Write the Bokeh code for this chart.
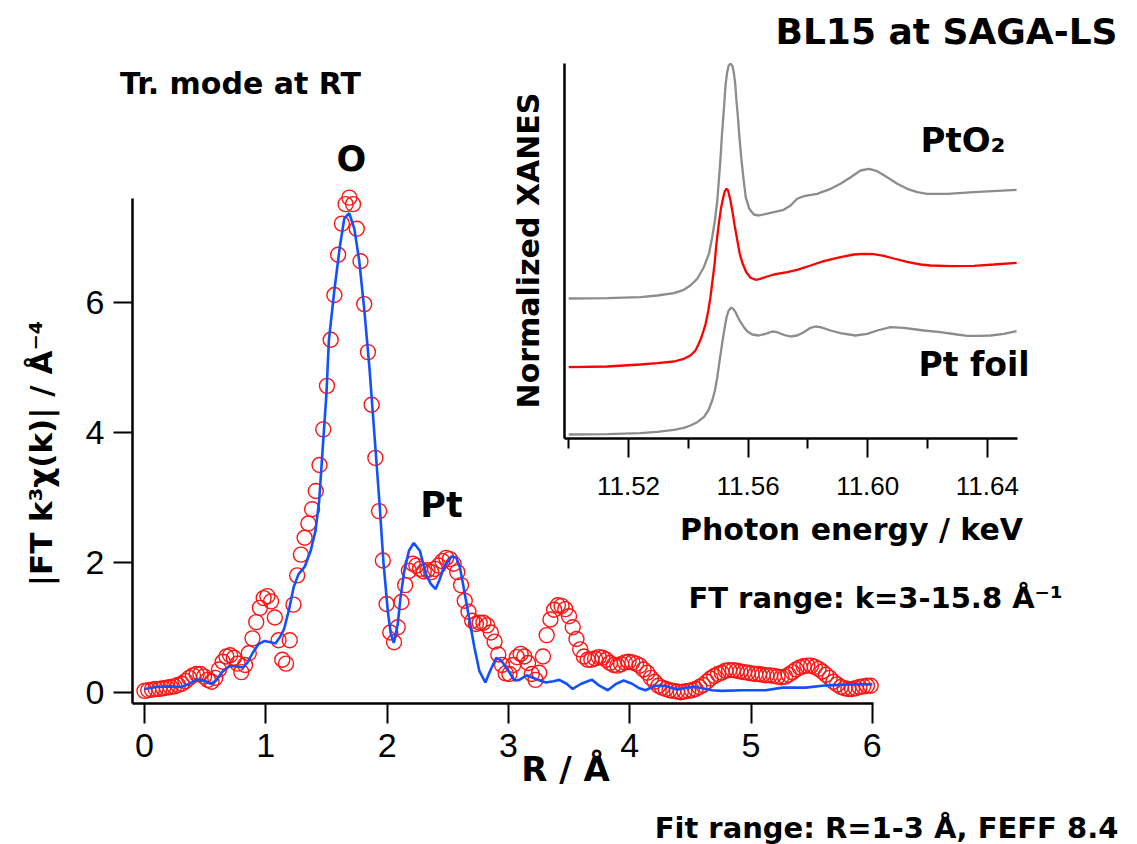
import numpy as np
from bokeh.plotting import figure
from bokeh.models import (Range1d, LinearAxis, FixedTicker, NumeralTickFormatter, Label)
from bokeh.embed import file_html
from bokeh.resources import INLINE

# ---------------- data ----------------
# |FT k^3 chi(k)| experimental points on a uniform R grid (step 0.0307 A)
R_STEP = 0.0307
ft_exp = [0.02, 0.03, 0.04, 0.05, 0.05, 0.06, 0.07, 0.08, 0.09, 0.11,
          0.13, 0.17, 0.22, 0.26, 0.28, 0.28, 0.24, 0.19, 0.16, 0.22,
          0.35, 0.47, 0.55, 0.57, 0.53, 0.44, 0.31, 0.42, 0.60, 0.83,
          1.08, 1.30, 1.45, 1.48, 1.40, 1.15, 0.80, 0.50, 0.44, 0.80,
          1.35, 1.80, 2.12, 2.38, 2.60, 2.82, 3.10, 3.50, 4.05, 4.72,
          5.43, 6.12, 6.74, 7.22, 7.52, 7.62, 7.52, 7.14, 6.64, 5.98,
          5.24, 4.43, 3.61, 2.79, 2.03, 1.36, 0.92, 0.77, 1.00, 1.39,
          1.65, 1.87, 1.98, 1.95, 1.90, 1.86, 1.88, 1.85, 1.90, 1.95,
          2.02, 2.07, 2.05, 1.98, 1.85, 1.65, 1.41, 1.24, 1.10, 1.05,
          1.07, 1.07, 1.03, 0.92, 0.78, 0.58, 0.42, 0.29, 0.28, 0.42,
          0.54, 0.59, 0.55, 0.45, 0.28, 0.19, 0.30, 0.55, 0.88, 1.12,
          1.27, 1.34, 1.33, 1.28, 1.17, 1.00, 0.82, 0.66, 0.55, 0.50,
          0.50, 0.52, 0.54, 0.53, 0.50, 0.45, 0.42, 0.41, 0.43, 0.46,
          0.47, 0.46, 0.44, 0.41, 0.35, 0.30, 0.22, 0.16, 0.10, 0.07,
          0.05, 0.03, 0.02, 0.01, 0.00, 0.01, 0.02, 0.03, 0.05, 0.08,
          0.11, 0.16, 0.21, 0.25, 0.28, 0.30, 0.33, 0.34, 0.34, 0.33,
          0.32, 0.31, 0.30, 0.29, 0.28, 0.28, 0.27, 0.26, 0.26, 0.25,
          0.24, 0.23, 0.24, 0.27, 0.31, 0.35, 0.38, 0.40, 0.41, 0.41,
          0.39, 0.36, 0.32, 0.27, 0.22, 0.16, 0.12, 0.08, 0.06, 0.05,
          0.05, 0.06, 0.08, 0.09, 0.10, 0.10]
R_exp = np.arange(len(ft_exp)) * R_STEP

# fitted curve
fit_R = [0.00, 0.10, 0.21, 0.30, 0.37, 0.43, 0.49, 0.545, 0.59, 0.64,
         0.70, 0.75, 0.81, 0.85, 0.89, 0.94, 0.99, 1.04, 1.08, 1.12,
         1.15, 1.19, 1.23, 1.27, 1.32, 1.37, 1.41, 1.44, 1.47, 1.50,
         1.52, 1.565, 1.61, 1.647, 1.688, 1.73, 1.77, 1.81, 1.854, 1.895,
         1.936, 1.97, 2.006, 2.03, 2.055, 2.088, 2.11, 2.14, 2.18, 2.22,
         2.27, 2.32, 2.36, 2.40, 2.43, 2.47, 2.53, 2.57, 2.60, 2.64,
         2.68, 2.72, 2.76, 2.81, 2.85, 2.90, 2.94, 3.00, 3.05, 3.09,
         3.15, 3.19, 3.26, 3.31, 3.37, 3.42, 3.48, 3.53, 3.60, 3.67,
         3.69, 3.75, 3.82, 3.88, 3.95, 4.02, 4.08, 4.13, 4.21, 4.29,
         4.35, 4.40, 4.47, 4.54, 4.60, 4.68, 4.76, 4.93, 5.12, 5.26,
         5.45, 5.59, 5.81, 6.00]
fit_mag = [0.05, 0.08, 0.09, 0.08, 0.13, 0.20, 0.18, 0.13, 0.18, 0.31,
           0.40, 0.40, 0.38, 0.46, 0.60, 0.74, 0.79, 0.77, 0.75, 0.86,
           0.97, 1.26, 1.62, 1.82, 1.93, 2.18, 2.49, 2.95, 3.78, 4.60,
           5.42, 6.19, 6.86, 7.30, 7.38, 7.14, 6.65, 5.93, 5.01, 3.98,
           2.95, 2.00, 1.25, 0.90, 0.76, 1.05, 1.45, 1.85, 2.18, 2.30,
           2.18, 1.82, 1.67, 1.59, 1.72, 1.93, 2.09, 2.07, 1.93, 1.52,
           1.10, 0.69, 0.33, 0.15, 0.33, 0.53, 0.49, 0.33, 0.18, 0.19,
           0.26, 0.23, 0.18, 0.15, 0.17, 0.19, 0.13, 0.05, 0.13, 0.18,
           0.19, 0.10, 0.03, 0.12, 0.18, 0.13, 0.06, 0.03, 0.10, 0.10,
           0.06, 0.04, 0.07, 0.08, 0.06, 0.03, 0.02, 0.03, 0.03, 0.07,
           0.07, 0.10, 0.12, 0.12]

main_xticks = [0, 1, 2, 3, 4, 5, 6]
main_yticks = [0, 2, 4, 6]

# inset: normalized XANES (keV), each curve with its vertical offset
e_pto2 = [11.5000, 11.5129, 11.5240, 11.5296, 11.5352, 11.5385, 11.5407, 11.5430,
          11.5452, 11.5469, 11.5480, 11.5489, 11.5497, 11.5503, 11.5508, 11.5512,
          11.5517, 11.5521, 11.5525, 11.5530, 11.5535, 11.5541, 11.5547, 11.5552,
          11.5557, 11.5561, 11.5566, 11.5571, 11.5577, 11.5584, 11.5592, 11.5604,
          11.5619, 11.5636, 11.5686, 11.5719, 11.5742, 11.5764, 11.5786, 11.5831,
          11.5876, 11.5909, 11.5943, 11.5976, 11.6004, 11.6032, 11.6065, 11.6099,
          11.6132, 11.6166, 11.6199, 11.6266, 11.6355, 11.6498]
mu_pto2 = [0.000, 0.003, 0.013, 0.030, 0.053, 0.087, 0.130, 0.197,
           0.313, 0.447, 0.613, 0.780, 0.980, 1.213, 1.413, 1.613,
           1.813, 1.980, 2.147, 2.263, 2.330, 2.347, 2.330, 2.263,
           2.147, 1.980, 1.813, 1.613, 1.413, 1.213, 1.013, 0.897,
           0.840, 0.830, 0.863, 0.887, 0.930, 0.997, 1.023, 1.047,
           1.097, 1.147, 1.213, 1.280, 1.297, 1.273, 1.213, 1.147,
           1.097, 1.063, 1.047, 1.047, 1.063, 1.087]
e_sample = [11.5000, 11.5129, 11.5240, 11.5296, 11.5352, 11.5385, 11.5407, 11.5424,
            11.5435, 11.5446, 11.5458, 11.5467, 11.5474, 11.5481, 11.5488, 11.5494,
            11.5502, 11.5509, 11.5517, 11.5522, 11.5528, 11.5533, 11.5541, 11.5548,
            11.5555, 11.5564, 11.5572, 11.5582, 11.5594, 11.5608, 11.5625, 11.5641,
            11.5664, 11.5686, 11.5731, 11.5764, 11.5809, 11.5853, 11.5909, 11.5954,
            11.5987, 11.6020, 11.6054, 11.6087, 11.6132, 11.6177, 11.6210, 11.6277,
            11.6355, 11.6422, 11.6498]
mu_sample = [0.003, 0.010, 0.030, 0.043, 0.060, 0.087, 0.120, 0.170,
             0.237, 0.320, 0.437, 0.570, 0.703, 0.870, 1.037, 1.237,
             1.437, 1.587, 1.703, 1.763, 1.787, 1.770, 1.670, 1.553,
             1.420, 1.270, 1.137, 1.037, 0.953, 0.897, 0.877, 0.887,
             0.910, 0.930, 0.953, 0.977, 1.020, 1.063, 1.103, 1.130,
             1.137, 1.133, 1.117, 1.090, 1.057, 1.030, 1.020, 1.013,
             1.017, 1.030, 1.047]
e_foil = [11.5000, 11.5129, 11.5240, 11.5296, 11.5352, 11.5385, 11.5407, 11.5430,
          11.5452, 11.5467, 11.5480, 11.5489, 11.5497, 11.5504, 11.5513, 11.5521,
          11.5528, 11.5535, 11.5543, 11.5550, 11.5558, 11.5566, 11.5575, 11.5586,
          11.5597, 11.5614, 11.5636, 11.5658, 11.5681, 11.5697, 11.5719, 11.5742,
          11.5764, 11.5786, 11.5809, 11.5825, 11.5842, 11.5876, 11.5909, 11.5959,
          11.5998, 11.6032, 11.6076, 11.6121, 11.6188, 11.6243, 11.6299, 11.6333,
          11.6377, 11.6411, 11.6455, 11.6498]
mu_foil = [0.010, 0.013, 0.023, 0.037, 0.057, 0.077, 0.100, 0.133,
           0.183, 0.250, 0.350, 0.450, 0.583, 0.733, 0.917, 1.067,
           1.183, 1.250, 1.277, 1.267, 1.233, 1.183, 1.133, 1.083,
           1.043, 1.010, 1.000, 1.017, 1.040, 1.033, 1.007, 0.990,
           1.000, 1.033, 1.077, 1.090, 1.083, 1.050, 1.023, 1.000,
           1.017, 1.050, 1.083, 1.077, 1.050, 1.033, 1.010, 0.997,
           0.997, 1.000, 1.017, 1.043]
off_pto2, off_sample, off_foil = 1.37, 0.68, 0.0

inset_ticks = [11.52, 11.56, 11.60, 11.64]
inset_minor = [11.50, 11.54, 11.58, 11.62]

# ---------------- layout (pixel geometry) ----------------
W, H = 1137, 844
X0PX, XS = 144.0, 121.3      # R=0 pixel, px per Angstrom
Y0PX, YS = 691.7, 64.9       # |FT|=0 pixel, px per unit
E0PX, ES = 628.0, 2990.0     # 11.52 keV pixel, px per keV
I0PY, IS = 435.0, 100.0      # inset zero pixel, px per unit

def rx(px): return (px - X0PX) / XS
def ry(py): return (Y0PX - py) / YS
def ex(px): return 11.52 + (px - E0PX) / ES
def iy(py): return (I0PY - py) / IS

p = figure(width=W, height=H, x_range=Range1d(rx(0), rx(W)), y_range=Range1d(ry(H), ry(0)),
           x_axis_type=None, y_axis_type=None, toolbar_location=None,
           output_backend="svg", min_border=0, outline_line_color=None)
p.extra_x_ranges = {"ix": Range1d(ex(0), ex(W))}
p.extra_y_ranges = {"iy": Range1d(iy(H), iy(0))}
p.background_fill_color = "white"
p.border_fill_color = "white"

TICKFONT = "Liberation Sans"
BOLD = "DejaVu Sans"

def style_axis(ax, tick_out, label_size, standoff, font=TICKFONT):
    ax.axis_line_width = 2.5
    ax.axis_line_color = "black"
    ax.major_tick_line_width = 2
    ax.major_tick_line_color = "black"
    ax.major_tick_in = 0
    ax.major_tick_out = tick_out
    ax.minor_tick_in = 0
    ax.minor_tick_out = 10
    ax.minor_tick_line_width = 2
    ax.minor_tick_line_color = "black"
    ax.major_label_text_font = font
    ax.major_label_text_font_size = label_size
    ax.major_label_text_color = "black"
    ax.major_label_standoff = standoff

xa = LinearAxis(ticker=FixedTicker(ticks=main_xticks), fixed_location=ry(703),
                bounds=(rx(132), rx(873)))
style_axis(xa, 20, "34px", 10)
p.add_layout(xa, "below")

ya = LinearAxis(ticker=FixedTicker(ticks=main_yticks), fixed_location=rx(132),
                bounds=(ry(703), ry(198)))
style_axis(ya, 19, "34px", 9)
p.add_layout(ya, "left")

ia = LinearAxis(x_range_name="ix", ticker=FixedTicker(ticks=inset_ticks, minor_ticks=inset_minor),
                formatter=NumeralTickFormatter(format="0.00"), fixed_location=ry(438),
                bounds=(ex(564), ex(1017)))
style_axis(ia, 19, "26px", 19)
p.add_layout(ia, "below")

il = LinearAxis(y_range_name="iy", ticker=FixedTicker(ticks=[]), fixed_location=rx(564),
                bounds=(iy(438), iy(63)))
style_axis(il, 0, "0px", 0)
p.add_layout(il, "left")

# ---------------- glyphs ----------------
p.scatter(R_exp, ft_exp, marker="circle", size=15, fill_color=None,
          line_color="#ff1414", line_width=1.4)
p.line(fit_R, fit_mag, line_color="#1450ff", line_width=2.6)

p.line(e_pto2, np.array(mu_pto2) + off_pto2, x_range_name="ix", y_range_name="iy",
       line_color="#8c8c8c", line_width=2.3)
p.line(e_sample, np.array(mu_sample) + off_sample, x_range_name="ix", y_range_name="iy",
       line_color="#ff0000", line_width=2.3)
p.line(e_foil, np.array(mu_foil) + off_foil, x_range_name="ix", y_range_name="iy",
       line_color="#8c8c8c", line_width=2.3)

# ---------------- texts (positions are visual centres in pixels) ----------------
def lab(text, px, py, size, align="center", angle=0.0, bold=True, font=BOLD):
    p.add_layout(Label(x=rx(px), y=ry(py), text=text, text_align=align, text_baseline="middle",
                       angle=angle, text_font=font, text_font_size=size,
                       text_font_style="bold" if bold else "normal", text_color="black"))

lab("BL15 at SAGA-LS", 946, 31, "36px")
lab("Tr. mode at RT", 240, 83, "30px")
lab("O", 351, 158, "35px")
lab("Pt", 441, 504, "35px")
lab("PtO\u2082", 920, 139, "34px", align="left")
lab("Pt foil", 918, 364, "33px", align="left")
lab("Normalized XANES", 528, 250, "30px", angle=np.pi / 2)
lab("Photon energy / keV", 851, 529, "30px")
lab("FT range: k=3-15.8 \u00c5\u207b\u00b9", 875, 597, "29px")
lab("Fit range: R=1-3 \u00c5, FEFF 8.4", 886, 827, "29px")
lab("R / \u00c5", 565, 768, "34px")
lab("|FT k\u00b3\u03c7(k)| / \u00c5\u207b\u2074", 40, 453, "31px", angle=np.pi / 2)

open("out.html", "w").write(file_html(p, INLINE))
